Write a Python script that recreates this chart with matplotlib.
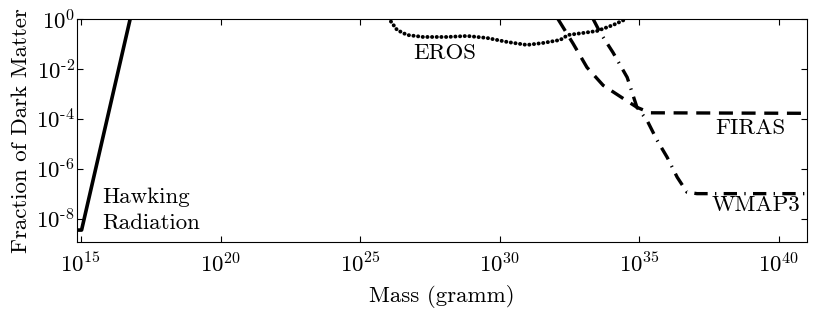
import numpy as np
import matplotlib
matplotlib.use("Agg")
import matplotlib.pyplot as plt
from matplotlib.ticker import FuncFormatter

plt.rcParams["font.family"] = "cmr10"
plt.rcParams["mathtext.fontset"] = "cm"
plt.rcParams["axes.formatter.use_mathtext"] = True
plt.rcParams["axes.unicode_minus"] = False

# log10 values
hawking_logm = [14.85, 15.02, 16.76]
hawking_logf = [-8.46, -8.46, 0.0]

eros_logm = [26.00, 26.32, 26.68, 27.25, 28.11, 28.83, 29.54, 30.26, 30.97,
             31.55, 32.16, 32.44, 32.98, 33.48, 34.06, 34.56]
eros_logf = [0.05, -0.44, -0.64, -0.72, -0.72, -0.68, -0.76, -0.92, -1.04,
             -0.96, -0.84, -0.64, -0.56, -0.48, -0.24, 0.02]

firas_logm = [32.08, 32.62, 33.12, 33.70, 34.41, 34.91, 35.38, 41.0]
firas_logf = [0.0, -0.98, -1.94, -2.66, -3.18, -3.54, -3.76, -3.78]

wmap_logm = [33.34, 33.59, 34.05, 34.56, 34.91, 35.27, 35.63, 35.99, 36.35, 36.70, 37.06, 41.0]
wmap_logf = [0.0, -0.54, -1.34, -2.34, -3.54, -4.06, -4.86, -5.54, -6.34, -6.94, -7.0, -7.0]

xticks = [15, 20, 25, 30, 35, 40]
yticks = [-8, -6, -4, -2, 0]


def pow_label(v, pos):
    e = int(round(np.log10(v)))
    if e < 0:
        return r"$10^{\text{-}%d}$" % (-e)
    return r"$10^{%d}$" % e

# %%

fig = plt.figure(figsize=(8.3, 3.13), dpi=100)
ax = fig.add_axes([0.0928, 0.2259, 0.8795, 0.7134])

ax.plot(10.0**np.array(hawking_logm), 10.0**np.array(hawking_logf), color="black", lw=2.6)
ax.plot(10.0**np.array(eros_logm), 10.0**np.array(eros_logf), color="black", lw=2.8,
        linestyle=(0, (0.05, 1.15)), dash_capstyle="round")
ax.plot(10.0**np.array(firas_logm), 10.0**np.array(firas_logf), color="black", lw=2.4,
        linestyle=(0, (4.2, 2.6)))
ax.plot(10.0**np.array(wmap_logm), 10.0**np.array(wmap_logf), color="black", lw=2.4,
        linestyle=(0, (4.0, 2.2, 0.4, 2.2)))

ax.set_xscale("log")
ax.set_yscale("log")
ax.set_xlim(10**14.857, 10**41.0)
ax.set_ylim(10**-8.95, 10**0.0)
ax.set_xticks([10.0**t for t in xticks])
ax.set_yticks([10.0**t for t in yticks])
ax.yaxis.set_major_formatter(FuncFormatter(pow_label))
ax.minorticks_off()
ax.tick_params(direction="in", top=True, right=True, length=4.5, width=0.8, labelsize=16.5)
ax.tick_params(axis="x", pad=7)
ax.tick_params(axis="y", pad=1.5)

fontsize = 16.5
ax.text(10**26.89, 10**-1.36, "EROS", fontsize=fontsize, va="center", ha="left")
ax.text(10**37.71, 10**-4.37, "FIRAS", fontsize=fontsize, va="center", ha="left")
ax.text(10**37.6, 10**-7.45, "WMAP3", fontsize=fontsize, va="center", ha="left")
ax.text(10**15.75, 10**-7.13, "Hawking", fontsize=fontsize, va="center", ha="left")
ax.text(10**15.75, 10**-8.18, "Radiation", fontsize=fontsize, va="center", ha="left")

ax.set_xlabel("Mass (gramm)", fontsize=fontsize, labelpad=6)
ax.set_ylabel("Fraction of Dark Matter", fontsize=fontsize)
ax.yaxis.set_label_coords(-0.063, 0.5)

fig.savefig("out.png", dpi=100)
